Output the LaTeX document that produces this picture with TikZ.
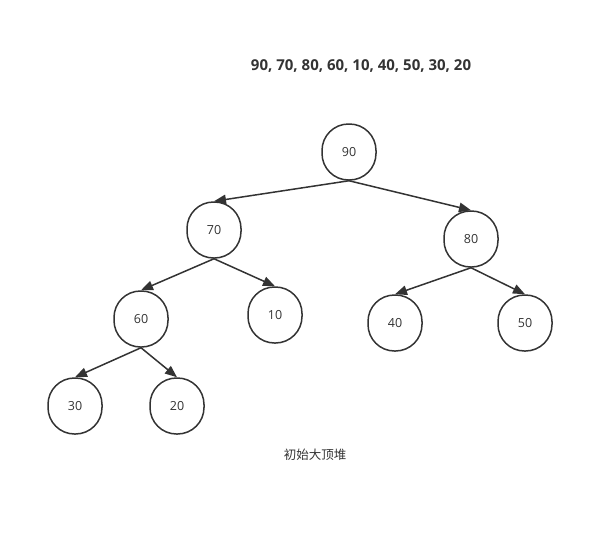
\documentclass[tikz,border=0pt]{standalone}
\usepackage{fontspec}
\setmainfont{Open Sans}
\newfontfamily\cjk{Noto Sans CJK SC}
\usetikzlibrary{arrows.meta}
\definecolor{ink}{HTML}{333333}
\begin{document}
\begin{tikzpicture}[x=1pt,y=-1pt,
  heapnode/.style={draw=ink,line width=1.5pt,rectangle,rounded corners=26.5pt,
    minimum width=54pt,minimum height=56pt,inner sep=0pt,text=ink,font=\fontsize{12.5}{14}\selectfont},
  link/.style={draw=ink,line width=1.5pt,-{Triangle[length=12pt,width=9.5pt]}}]
\useasboundingbox (0,0) rectangle (614,536);
\node[font=\bfseries\fontsize{15}{18}\selectfont,text=ink] (title) at (361,66) {90, 70, 80, 60, 10, 40, 50, 30, 20};
\node[heapnode] (n90) at (349,152) {90};
\node[heapnode] (n70) at (214,230) {70};
\node[heapnode] (n80) at (471,239) {80};
\node[heapnode] (n60) at (141,319) {60};
\node[heapnode] (n10) at (275,315) {10};
\node[heapnode] (n40) at (395,323) {40};
\node[heapnode] (n50) at (525,323) {50};
\node[heapnode] (n30) at (75,406) {30};
\node[heapnode] (n20) at (177,406) {20};
\node[font=\cjk\fontsize{12.5}{15}\selectfont,text=ink] (cap) at (315,455) {初始大顶堆};
\draw[link] (n90.south) -- (n70.north);
\draw[link] (n90.south) -- (n80.north);
\draw[link] (n70.south) -- (n60.north);
\draw[link] (n70.south) -- (n10.north);
\draw[link] (n80.south) -- (n40.north);
\draw[link] (n80.south) -- (n50.north);
\draw[link] (n60.south) -- (n30.north);
\draw[link] (n60.south) -- (n20.north);
\end{tikzpicture}
\end{document}
